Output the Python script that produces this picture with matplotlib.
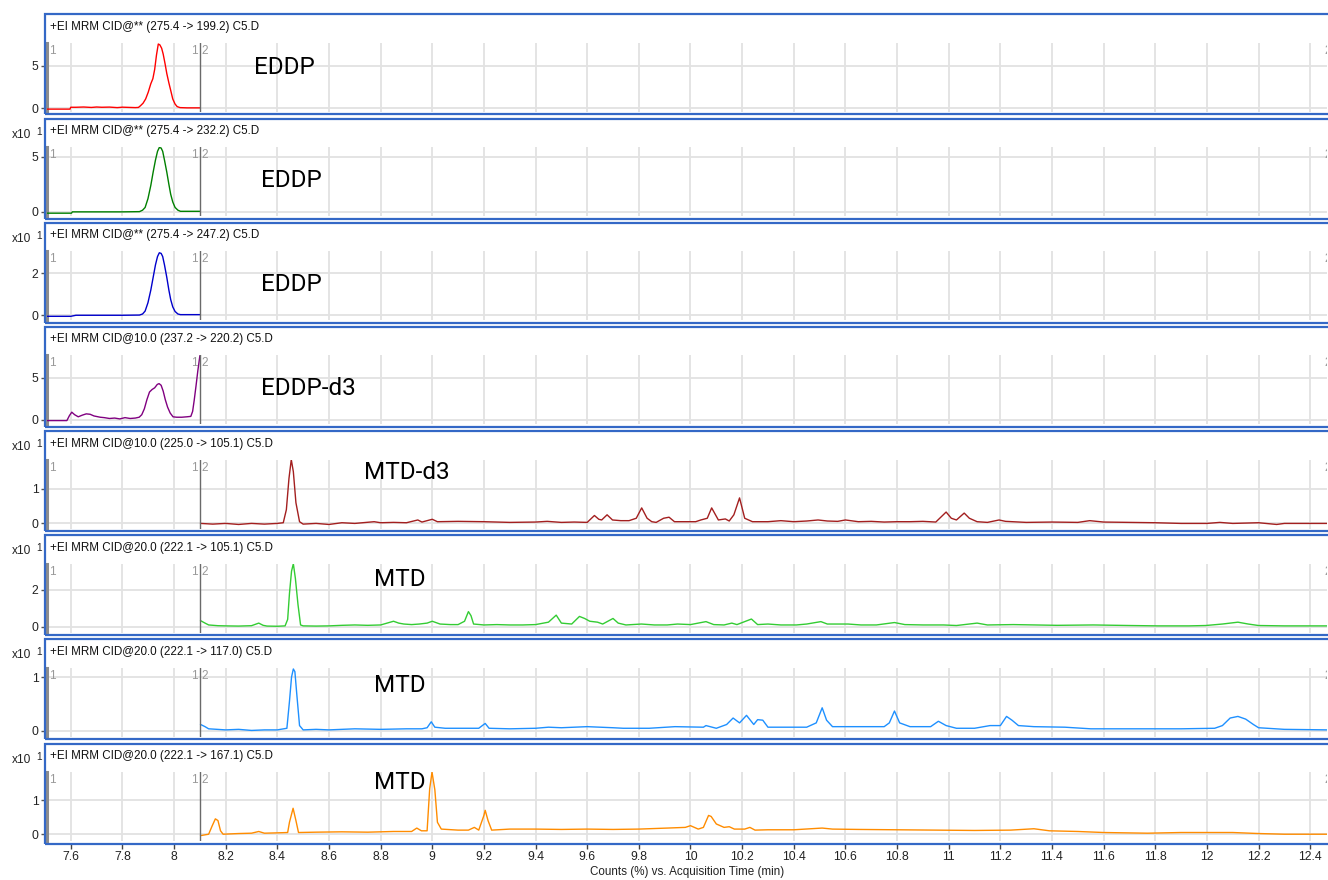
import matplotlib
matplotlib.use("Agg")
import matplotlib.pyplot as plt
from matplotlib.patches import Rectangle
import numpy as np

plt.rcParams['font.family'] = ['Liberation Sans', 'DejaVu Sans']

# ---------------- data ----------------
titles = [
    "+EI MRM CID@** (275.4 -> 199.2) C5.D",
    "+EI MRM CID@** (275.4 -> 232.2) C5.D",
    "+EI MRM CID@** (275.4 -> 247.2) C5.D",
    "+EI MRM CID@10.0 (237.2 -> 220.2) C5.D",
    "+EI MRM CID@10.0 (225.0 -> 105.1) C5.D",
    "+EI MRM CID@20.0 (222.1 -> 105.1) C5.D",
    "+EI MRM CID@20.0 (222.1 -> 117.0) C5.D",
    "+EI MRM CID@20.0 (222.1 -> 167.1) C5.D",
]
compounds = ["EDDP", "EDDP", "EDDP", "EDDP-d3", "MTD-d3", "MTD", "MTD", "MTD"]
y_ticks = [[0, 5], [0, 5], [0, 2], [0, 5], [0, 1], [0, 2], [0, 1], [0, 1]]
x10_flags = [False, True, True, False, True, True, True, True]
x_ticks = [7.6, 7.8, 8.0, 8.2, 8.4, 8.6, 8.8, 9.0, 9.2, 9.4, 9.6, 9.8, 10.0,
           10.2, 10.4, 10.6, 10.8, 11.0, 11.2, 11.4, 11.6, 11.8, 12.0, 12.2, 12.4]
x_tick_labels = ["7.6", "7.8", "8", "8.2", "8.4", "8.6", "8.8", "9", "9.2", "9.4",
                 "9.6", "9.8", "10", "10.2", "10.4", "10.6", "10.8", "11", "11.2",
                 "11.4", "11.6", "11.8", "12", "12.2", "12.4"]
segment_break = 8.1

eddp_199 = [(7.508, -0.1), (7.597, -0.1), (7.600, 0.12), (7.62, 0.12), (7.65, 0.15), (7.68, 0.1),
            (7.70, 0.15), (7.72, 0.12), (7.75, 0.14), (7.78, 0.08), (7.80, 0.13), (7.83, 0.1),
            (7.85, 0.08), (7.862, 0.1), (7.870, 0.3), (7.880, 0.6), (7.890, 1.1), (7.900, 1.9),
            (7.910, 2.9), (7.918, 3.5), (7.925, 4.6), (7.932, 6.3), (7.939, 7.6), (7.945, 7.5),
            (7.952, 7.1), (7.958, 6.4), (7.965, 5.3), (7.972, 4.1), (7.980, 3.0), (7.988, 2.0),
            (7.995, 1.1), (8.004, 0.5), (8.012, 0.2), (8.023, 0.08), (8.05, 0.05), (8.10, 0.05)]

eddp_232 = [(7.508, -0.12), (7.603, -0.12), (7.606, 0.0), (7.70, 0.0), (7.80, 0.0), (7.866, 0.02),
            (7.878, 0.15), (7.888, 0.4), (7.899, 1.2), (7.910, 2.4), (7.919, 3.6), (7.928, 4.7),
            (7.936, 5.5), (7.943, 5.85), (7.950, 5.8), (7.956, 5.5), (7.963, 4.7), (7.972, 3.6),
            (7.980, 2.5), (7.987, 1.6), (7.995, 0.9), (8.004, 0.4), (8.015, 0.15), (8.025, 0.05),
            (8.10, 0.05)]

eddp_247 = [(7.508, -0.05), (7.60, -0.05), (7.62, 0.0), (7.70, 0.0), (7.80, 0.0), (7.866, 0.01),
            (7.878, 0.06), (7.888, 0.2), (7.899, 0.6), (7.910, 1.2), (7.919, 1.8), (7.928, 2.4),
            (7.936, 2.8), (7.943, 2.98), (7.950, 2.95), (7.956, 2.8), (7.963, 2.4), (7.972, 1.8),
            (7.980, 1.2), (7.987, 0.75), (7.995, 0.4), (8.004, 0.18), (8.015, 0.06), (8.025, 0.03),
            (8.10, 0.03)]

eddp_d3_220 = [(7.508, -0.1), (7.585, -0.1), (7.595, 0.5), (7.604, 0.9), (7.615, 0.6), (7.629, 0.35),
               (7.645, 0.55), (7.660, 0.7), (7.675, 0.65), (7.69, 0.45), (7.714, 0.3), (7.73, 0.25),
               (7.75, 0.15), (7.77, 0.2), (7.79, 0.1), (7.81, 0.25), (7.83, 0.15), (7.85, 0.2),
               (7.865, 0.3), (7.875, 0.6), (7.885, 1.3), (7.895, 2.4), (7.905, 3.3), (7.915, 3.6),
               (7.925, 3.8), (7.935, 4.2), (7.942, 4.3), (7.950, 4.1), (7.958, 3.4), (7.966, 2.4),
               (7.975, 1.5), (7.985, 0.8), (7.996, 0.35), (8.01, 0.3), (8.03, 0.3), (8.05, 0.35),
               (8.065, 0.4), (8.072, 1.0), (8.078, 2.3), (8.085, 4.0), (8.092, 5.8), (8.100, 7.6)]

mtd_d3_105 = [(8.103, 0.0), (8.15, -0.02), (8.2, 0.0), (8.25, -0.03), (8.3, 0.0), (8.35, -0.02),
              (8.40, 0.0), (8.423, 0.02), (8.435, 0.4), (8.445, 1.3), (8.454, 1.85), (8.462, 1.5),
              (8.472, 0.6), (8.486, 0.05), (8.50, -0.02), (8.55, 0.0), (8.60, -0.03), (8.65, 0.02),
              (8.70, 0.0), (8.775, 0.05), (8.80, 0.02), (8.85, 0.03), (8.90, 0.02), (8.944, 0.1),
              (8.96, 0.04), (9.0, 0.12), (9.02, 0.05), (9.1, 0.06), (9.2, 0.05), (9.3, 0.03),
              (9.4, 0.04), (9.445, 0.06), (9.5, 0.03), (9.55, 0.04), (9.60, 0.03), (9.628, 0.23),
              (9.645, 0.12), (9.656, 0.1), (9.677, 0.25), (9.698, 0.1), (9.73, 0.08), (9.762, 0.08),
              (9.79, 0.15), (9.811, 0.45), (9.832, 0.15), (9.85, 0.05), (9.867, 0.03), (9.896, 0.15),
              (9.917, 0.18), (9.938, 0.05), (9.97, 0.05), (10.02, 0.05), (10.04, 0.1), (10.065, 0.15),
              (10.082, 0.45), (10.108, 0.1), (10.135, 0.13), (10.15, 0.07), (10.168, 0.25),
              (10.19, 0.74), (10.21, 0.15), (10.24, 0.05), (10.30, 0.05), (10.35, 0.08), (10.40, 0.05),
              (10.45, 0.07), (10.494, 0.1), (10.53, 0.07), (10.57, 0.06), (10.60, 0.1), (10.65, 0.05),
              (10.70, 0.06), (10.75, 0.04), (10.80, 0.05), (10.85, 0.05), (10.90, 0.06), (10.95, 0.04),
              (10.99, 0.33), (11.01, 0.15), (11.03, 0.1), (11.06, 0.3), (11.08, 0.15), (11.11, 0.05),
              (11.15, 0.03), (11.195, 0.1), (11.22, 0.06), (11.30, 0.03), (11.40, 0.04), (11.50, 0.03),
              (11.546, 0.08), (11.60, 0.04), (11.70, 0.03), (11.80, 0.02), (11.85, 0.01), (11.90, 0.0),
              (12.0, 0.0), (12.05, 0.03), (12.10, 0.0), (12.2, 0.02), (12.27, -0.03), (12.3, 0.0),
              (12.40, 0.0), (12.47, 0.0)]

mtd_105 = [(8.103, 0.33), (8.12, 0.2), (8.134, 0.1), (8.17, 0.06), (8.2, 0.05), (8.25, 0.04),
           (8.30, 0.06), (8.328, 0.2), (8.345, 0.08), (8.36, 0.04), (8.40, 0.03), (8.43, 0.05),
           (8.44, 0.4), (8.447, 1.8), (8.455, 3.0), (8.462, 3.4), (8.47, 2.6), (8.48, 1.2),
           (8.49, 0.1), (8.50, 0.05), (8.55, 0.04), (8.60, 0.05), (8.65, 0.08), (8.70, 0.1),
           (8.75, 0.08), (8.80, 0.1), (8.85, 0.3), (8.87, 0.2), (8.89, 0.15), (8.92, 0.12),
           (8.95, 0.15), (8.98, 0.2), (9.0, 0.3), (9.03, 0.15), (9.07, 0.12), (9.10, 0.12),
           (9.125, 0.3), (9.14, 0.82), (9.15, 0.6), (9.16, 0.15), (9.2, 0.1), (9.25, 0.12),
           (9.3, 0.1), (9.35, 0.1), (9.40, 0.12), (9.45, 0.25), (9.48, 0.63), (9.50, 0.2),
           (9.54, 0.15), (9.57, 0.56), (9.59, 0.45), (9.61, 0.3), (9.64, 0.25), (9.66, 0.15),
           (9.70, 0.45), (9.72, 0.2), (9.75, 0.1), (9.81, 0.15), (9.86, 0.1), (9.91, 0.1),
           (9.95, 0.15), (10.0, 0.12), (10.06, 0.28), (10.09, 0.12), (10.13, 0.1), (10.16, 0.2),
           (10.18, 0.12), (10.236, 0.42), (10.26, 0.12), (10.30, 0.15), (10.35, 0.1), (10.41, 0.1),
           (10.45, 0.15), (10.505, 0.28), (10.53, 0.15), (10.61, 0.15), (10.66, 0.1), (10.72, 0.1),
           (10.79, 0.23), (10.83, 0.12), (10.90, 0.1), (10.98, 0.1), (11.03, 0.07), (11.11, 0.2),
           (11.15, 0.1), (11.25, 0.12), (11.42, 0.08), (11.56, 0.1), (11.70, 0.07), (11.81, 0.05),
           (11.93, 0.05), (11.995, 0.07), (12.06, 0.15), (12.12, 0.25), (12.16, 0.15), (12.2, 0.07),
           (12.3, 0.05), (12.47, 0.05)]

mtd_117 = [(8.103, 0.12), (8.12, 0.08), (8.134, 0.04), (8.2, 0.02), (8.25, 0.03), (8.3, 0.01),
           (8.35, 0.02), (8.40, 0.02), (8.437, 0.05), (8.447, 0.55), (8.455, 1.0), (8.462, 1.15),
           (8.468, 1.1), (8.475, 0.7), (8.486, 0.1), (8.50, 0.02), (8.55, 0.03), (8.60, 0.02),
           (8.70, 0.04), (8.80, 0.03), (8.90, 0.04), (8.96, 0.04), (8.98, 0.06), (8.996, 0.17),
           (9.01, 0.07), (9.05, 0.05), (9.10, 0.05), (9.18, 0.05), (9.205, 0.14), (9.22, 0.05),
           (9.30, 0.04), (9.40, 0.05), (9.45, 0.07), (9.5, 0.06), (9.6, 0.08), (9.7, 0.06),
           (9.74, 0.05), (9.84, 0.05), (9.94, 0.08), (10.05, 0.07), (10.06, 0.1), (10.1, 0.05),
           (10.14, 0.12), (10.165, 0.24), (10.19, 0.15), (10.217, 0.29), (10.245, 0.12),
           (10.26, 0.21), (10.28, 0.2), (10.3, 0.07), (10.35, 0.07), (10.45, 0.07), (10.487, 0.15),
           (10.51, 0.43), (10.527, 0.2), (10.55, 0.08), (10.6, 0.08), (10.7, 0.08), (10.75, 0.08),
           (10.77, 0.15), (10.79, 0.37), (10.81, 0.15), (10.85, 0.08), (10.93, 0.08), (10.96, 0.18),
           (10.99, 0.1), (11.03, 0.05), (11.1, 0.05), (11.16, 0.1), (11.2, 0.1), (11.224, 0.27),
           (11.245, 0.2), (11.27, 0.1), (11.33, 0.08), (11.45, 0.07), (11.55, 0.04), (11.7, 0.04),
           (11.9, 0.04), (12.03, 0.05), (12.06, 0.1), (12.09, 0.24), (12.12, 0.27), (12.15, 0.22),
           (12.18, 0.12), (12.2, 0.06), (12.3, 0.03), (12.47, 0.02)]

mtd_167 = [(8.103, -0.04), (8.134, 0.0), (8.148, 0.25), (8.16, 0.45), (8.17, 0.4), (8.18, 0.1),
           (8.19, 0.0), (8.25, 0.02), (8.30, 0.03), (8.328, 0.08), (8.35, 0.03), (8.40, 0.04),
           (8.44, 0.05), (8.447, 0.35), (8.461, 0.76), (8.472, 0.4), (8.482, 0.05), (8.55, 0.06),
           (8.65, 0.07), (8.75, 0.06), (8.85, 0.08), (8.92, 0.08), (8.94, 0.18), (8.958, 0.1),
           (8.98, 0.1), (8.99, 1.33), (8.999, 1.82), (9.01, 1.3), (9.02, 0.35), (9.035, 0.15),
           (9.1, 0.12), (9.14, 0.12), (9.163, 0.2), (9.18, 0.12), (9.2, 0.55), (9.205, 0.7),
           (9.216, 0.4), (9.23, 0.12), (9.3, 0.15), (9.4, 0.15), (9.5, 0.14), (9.6, 0.15),
           (9.7, 0.14), (9.8, 0.15), (9.91, 0.18), (9.98, 0.2), (10.0, 0.25), (10.03, 0.15),
           (10.05, 0.2), (10.07, 0.55), (10.08, 0.52), (10.1, 0.3), (10.13, 0.2), (10.15, 0.22),
           (10.17, 0.15), (10.21, 0.15), (10.23, 0.2), (10.25, 0.12), (10.3, 0.13), (10.4, 0.13),
           (10.51, 0.18), (10.55, 0.15), (10.65, 0.14), (10.8, 0.13), (10.95, 0.12), (11.1, 0.11),
           (11.24, 0.12), (11.33, 0.16), (11.39, 0.1), (11.5, 0.08), (11.6, 0.05), (11.77, 0.03),
           (11.9, 0.05), (12.1, 0.05), (12.2, 0.02), (12.3, 0.0), (12.47, 0.0)]

traces = [eddp_199, eddp_232, eddp_247, eddp_d3_220, mtd_d3_105, mtd_105, mtd_117, mtd_167]

# ---------------- styles / layout ----------------
colors = ["#ff0000", "#008000", "#0000cc", "#800080", "#a31f1f", "#33cc33", "#1e90ff", "#ff8c00"]
ylims = [(-0.44, 7.72), (-0.39, 5.88), (-0.24, 3.05), (-0.56, 7.65),
         (-0.15, 1.85), (-0.32, 3.4), (-0.11, 1.17), (-0.2, 1.82)]
label_px = [(284, 54), (291, 62), (291, 62), (308, 62), (407, 42), (400, 45), (400, 47), (400, 39)]

W, H = 1328, 880
fig = plt.figure(figsize=(W / 100, H / 100), dpi=100)
fig.patch.set_facecolor("white")

L, R = 47, 1327
xmin, xmax = 7.508, 12.465
step = 104.15
blue = "#3468c6"
label_font = ["Roboto", "DejaVu Sans"]

for i in range(8):
    T = 14 + step * i
    ax = fig.add_axes([L / W, 1 - (T + 98) / H, (R - L) / W, 69 / H])
    tt = [p[0] for p in traces[i]]
    yy = [p[1] for p in traces[i]]
    ax.plot(tt, yy, color=colors[i], lw=1.0, zorder=3)
    ax.set_xlim(xmin, xmax)
    ax.set_ylim(*ylims[i])
    ax.set_xticks(x_ticks)
    ax.set_yticks(y_ticks[i])
    ax.set_yticklabels([str(v) for v in y_ticks[i]])
    ax.grid(True, color="#e2e2e2", lw=1.3, zorder=0)
    ax.tick_params(axis="x", bottom=False, labelbottom=False)
    ax.tick_params(axis="y", length=4, width=1, color="#555555", labelsize=8.8,
                   labelcolor="#222222", pad=2)
    for s in ["top", "right", "bottom"]:
        ax.spines[s].set_visible(False)
    ax.spines["left"].set_color("#8c8c8c")
    ax.spines["left"].set_linewidth(2.2)
    ax.axvline(segment_break, color="#6a6a6a", lw=1.0, zorder=4)
    ax.set_facecolor("white")

    # segment numbers
    ax.text(7.514, 0.885, "1", transform=ax.get_xaxis_transform(), color="#999999",
            fontsize=8.5, ha="left", va="center")
    ax.text(segment_break - 0.008, 0.885, "1", transform=ax.get_xaxis_transform(),
            color="#999999", fontsize=8.5, ha="right", va="center")
    ax.text(segment_break + 0.008, 0.885, "2", transform=ax.get_xaxis_transform(),
            color="#999999", fontsize=8.5, ha="left", va="center")
    ax.text(xmax - 0.01, 0.885, "2", transform=ax.get_xaxis_transform(),
            color="#999999", fontsize=8.5, ha="left", va="center", clip_on=True)

    # header
    fig.text(50 / W, 1 - (T + 13) / H, titles[i], fontsize=8.35, ha="left", va="center",
             color="#111111")
    if x10_flags[i]:
        fig.text(31 / W, 1 - (T + 16.5) / H, "x10", fontsize=8.6, ha="right", va="center",
                 color="#222222")
        fig.text(36 / W, 1 - (T + 13.5) / H, "1", fontsize=7.2, ha="left", va="center",
                 color="#222222")

    # compound label
    lx, ly = label_px[i]
    fig.text(lx / W, 1 - (T + ly) / H, compounds[i], fontsize=17.5, family=label_font,
             fontweight="normal", ha="center", va="center", color="black")

    # blue panel border
    fig.patches.append(Rectangle((45 / W, 1 - (T + 100.5) / H), (W + 20 - 45) / W, 100 / H,
                                 transform=fig.transFigure, fill=False, ec=blue, lw=1.6,
                                 zorder=5))

# x axis
axx = fig.add_axes([L / W, 1 - 843 / H, (R - L) / W, 0.0001])
axx.set_xlim(xmin, xmax)
axx.set_xticks(x_ticks)
axx.set_xticklabels(x_tick_labels)
axx.set_yticks([])
for s in ["top", "right", "left", "bottom"]:
    axx.spines[s].set_visible(False)
axx.tick_params(axis="x", length=4, width=1, color="#444444", labelsize=8.8,
                labelcolor="#222222", pad=2)
axx.patch.set_alpha(0)
fig.text((L + R) / 2 / W, 1 - 872 / H, "Counts (%) vs. Acquisition Time (min)",
         fontsize=8.4, ha="center", va="center", color="#222222")

fig.savefig("out.png", dpi=100, facecolor="white")
